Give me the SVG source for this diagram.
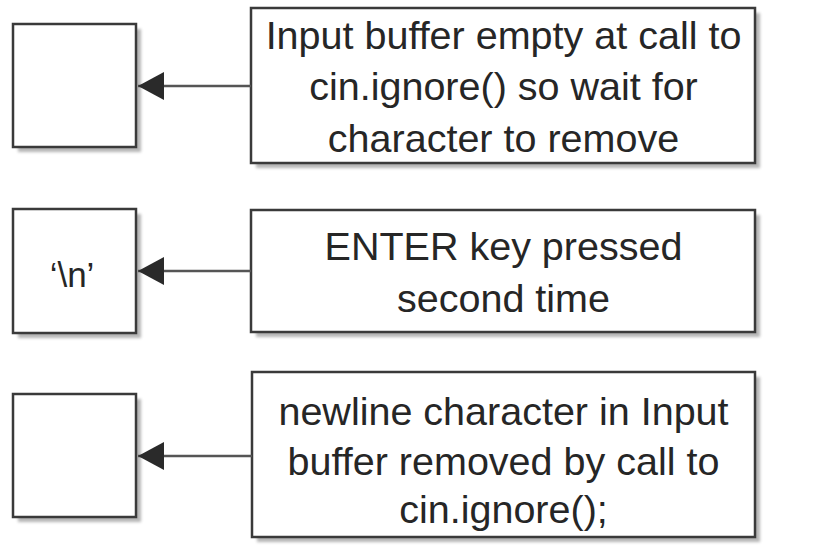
<svg xmlns="http://www.w3.org/2000/svg" width="819" height="545" viewBox="0 0 819 545">
<defs>
<filter id="blur" x="-10%" y="-10%" width="120%" height="120%"><feGaussianBlur stdDeviation="1.5"/></filter>
<marker id="arr" markerUnits="userSpaceOnUse" markerWidth="28" markerHeight="30" refX="26" refY="14" orient="auto" viewBox="0 0 28 30">
<path d="M26,14 L0,0 L0,28 Z" fill="#2a2a2a"/>
</marker>
</defs>
<style>
.box{fill:#fff;stroke:#3a3a3a;stroke-width:2.5}
.sh{fill:#b5b5b5;filter:url(#blur)}
.t{font-family:"Liberation Sans",Arial,sans-serif;font-size:39.5px;fill:#262626;text-anchor:middle}
.c{stroke:#555;stroke-width:2.5;fill:none}
</style>
<rect width="819" height="545" fill="#fff"/>
<g id="n1">
<rect class="sh" x="18" y="29" width="123" height="123"/>
<rect class="box" x="13" y="24" width="123" height="123"/>
</g>
<g id="d1">
<rect class="sh" x="256" y="13" width="504" height="155"/>
<rect class="box" x="251" y="8" width="504" height="155"/>
<text class="t" x="503.5" y="49">Input buffer empty at call to</text>
<text class="t" x="503.5" y="100">cin.ignore() so wait for</text>
<text class="t" x="503.5" y="152">character to remove</text>
</g>
<g id="n2">
<rect class="sh" x="18" y="214" width="123" height="124"/>
<rect class="box" x="13" y="209" width="123" height="124"/>
<text class="t" x="72" y="287" style="font-size:35px">‘\n’</text>
</g>
<g id="d2">
<rect class="sh" x="256" y="215" width="504" height="122"/>
<rect class="box" x="251" y="210" width="504" height="122"/>
<text class="t" x="503.5" y="260">ENTER key pressed</text>
<text class="t" x="503.5" y="312">second time</text>
</g>
<g id="n3">
<rect class="sh" x="18" y="399" width="123" height="123"/>
<rect class="box" x="13" y="394" width="123" height="123"/>
</g>
<g id="d3">
<rect class="sh" x="257" y="377" width="503" height="165"/>
<rect class="box" x="252" y="372" width="503" height="165"/>
<text class="t" x="503.5" y="425">newline character in Input</text>
<text class="t" x="503.5" y="475">buffer removed by call to</text>
<text class="t" x="503.5" y="523">cin.ignore();</text>
</g>
<g id="connectors">
<line class="c" x1="251" y1="86" x2="138" y2="86" marker-end="url(#arr)"/>
<line class="c" x1="251" y1="271" x2="138" y2="271" marker-end="url(#arr)"/>
<line class="c" x1="252" y1="456" x2="138" y2="456" marker-end="url(#arr)"/>
</g>
</svg>
